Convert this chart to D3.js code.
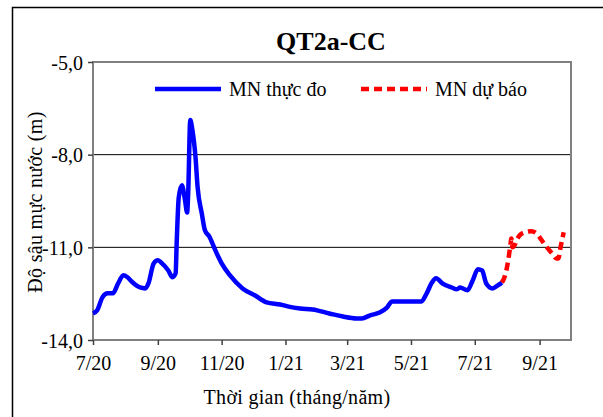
<!DOCTYPE html>
<html>
  <head>
    <meta charset="utf-8">
    <title>QT2a-CC</title>
    <script src="https://d3js.org/d3.v7.min.js"></script>
    <style>
    body{margin:0; background:white;}
    svg{display:block; background-color:white;}
    </style>
  </head>
  <body>
    <script>
    // data
    var obsDates = ["2020-07-01","2020-07-05","2020-07-10","2020-07-15","2020-07-20","2020-07-25","2020-07-30",
      "2020-08-03","2020-08-08","2020-08-15","2020-08-20","2020-08-23","2020-08-28","2020-09-01","2020-09-05",
      "2020-09-11","2020-09-15","2020-09-18","2020-09-19","2020-09-21","2020-09-24","2020-09-27","2020-09-29",
      "2020-09-30","2020-10-02","2020-10-04","2020-10-07","2020-10-09","2020-10-13","2020-10-16","2020-10-20",
      "2020-10-26","2020-11-01","2020-11-09","2020-11-21","2020-12-03","2020-12-14","2020-12-27","2021-01-03",
      "2021-01-15","2021-01-27","2021-02-12","2021-02-25","2021-03-10","2021-03-15","2021-03-23","2021-04-01",
      "2021-04-08","2021-04-13","2021-04-21","2021-05-03","2021-05-11","2021-05-16","2021-05-21","2021-05-25",
      "2021-05-31","2021-06-09","2021-06-14","2021-06-17","2021-06-24","2021-06-29","2021-07-04","2021-07-08",
      "2021-07-12","2021-07-18","2021-07-23","2021-07-27"];
    var obsValues = [-13.14,-13.04,-12.62,-12.49,-12.49,-12.17,-11.90,
      -11.97,-12.14,-12.30,-12.33,-12.17,-11.52,-11.42,-11.52,
      -11.75,-11.97,-11.84,-10.87,-9.38,-8.99,-9.48,-9.87,
      -9.25,-6.88,-7.20,-8.08,-9.05,-9.90,-10.45,-10.64,
      -11.10,-11.52,-11.91,-12.33,-12.56,-12.78,-12.85,-12.91,
      -12.98,-13.01,-13.14,-13.24,-13.30,-13.30,-13.20,-13.11,
      -12.95,-12.75,-12.75,-12.75,-12.75,-12.49,-12.14,-12.00,
      -12.17,-12.30,-12.36,-12.30,-12.39,-12.07,-11.71,-11.75,
      -12.17,-12.33,-12.23,-12.14];

    var fcDates = ["2021-07-27","2021-07-30","2021-08-02","2021-08-04","2021-08-05","2021-08-06","2021-08-08",
      "2021-08-10","2021-08-13","2021-08-18","2021-08-24","2021-08-29","2021-09-03","2021-09-08","2021-09-13",
      "2021-09-17","2021-09-19","2021-09-21","2021-09-23","2021-09-24"];
    var fcValues = [-12.14,-11.91,-11.42,-10.94,-10.71,-11.00,-10.94,
      -10.77,-10.61,-10.51,-10.48,-10.55,-10.77,-11.00,-11.20,
      -11.36,-11.36,-11.00,-10.68,-10.51];

    var yTicks = [-14, -11, -8, -5];
    var xTickDates = ["2020-07-01","2020-09-01","2020-11-01","2021-01-01","2021-03-01","2021-05-01","2021-07-01","2021-09-01"];
    var seriesNames = ["MN thực đo", "MN dự báo"];

    var width = 603, height = 417;
    var plotL = 93, plotR = 571, plotT = 62, plotB = 340;
    var serif = "'Liberation Serif', 'DejaVu Serif', serif";

    var parse = d3.timeParse("%Y-%m-%d");
    // excel style: hyphen minus and decimal comma
    var commaFmt = function(v){ return v.toFixed(1).replace(".", ","); };

    var svg = d3.select("body").append("svg").attr("width", width).attr("height", height);

    // outer chart border (runs past the window on the right and bottom)
    svg.append("rect").attr("x", 12.5).attr("y", 7.5).attr("width", 700).attr("height", 500)
      .attr("fill", "none").attr("stroke", "black").attr("stroke-width", 1.5);

    var x = d3.scaleTime()
      .domain([parse("2020-07-01"), parse("2021-10-01")])
      .range([plotL, plotR]);
    var y = d3.scaleLinear().domain([-14, -5]).range([plotB, plotT]);

    // gridlines
    svg.append("g").selectAll("line")
      .data([-8, -11])
      .enter().append("line")
      .attr("x1", plotL).attr("x2", plotR)
      .attr("y1", function(d){ return y(d); }).attr("y2", function(d){ return y(d); })
      .attr("stroke", "black").attr("stroke-width", 1);

    // plot area border
    svg.append("rect").attr("x", plotL).attr("y", plotT)
      .attr("width", plotR - plotL).attr("height", plotB - plotT)
      .attr("fill", "none").attr("stroke", "#808080").attr("stroke-width", 2);

    // axes
    var yAxis = d3.axisLeft(y).tickValues(yTicks).tickFormat(commaFmt).tickSize(5).tickPadding(5);
    var gy = svg.append("g").attr("transform", "translate(" + plotL + ",0)").call(yAxis)
      .attr("font-family", serif).attr("font-size", 20);
    gy.select(".domain").remove();
    gy.selectAll(".tick line").attr("stroke", "#404040").attr("stroke-width", 1.5);
    gy.selectAll(".tick text").attr("fill", "black").attr("dy", "0.35em");

    var xAxis = d3.axisBottom(x).tickValues(xTickDates.map(parse))
      .tickFormat(d3.timeFormat("%-m/%y")).tickSize(5).tickPadding(11);
    var gx = svg.append("g").attr("transform", "translate(0," + plotB + ")").call(xAxis)
      .attr("font-family", serif).attr("font-size", 20);
    gx.select(".domain").remove();
    gx.selectAll(".tick line").attr("stroke", "#404040").attr("stroke-width", 1.5);
    gx.selectAll(".tick text").attr("fill", "black");

    // lines
    var line = d3.line()
      .x(function(d){ return x(d.date); })
      .y(function(d){ return y(d.value); })
      .curve(d3.curveMonotoneX);

    var obs = obsDates.map(function(d, i){ return {date: parse(d), value: obsValues[i]}; });
    var fc = fcDates.map(function(d, i){ return {date: parse(d), value: fcValues[i]}; });

    svg.append("path").datum(obs).attr("d", line)
      .attr("fill", "none").attr("stroke", "#0000ff").attr("stroke-width", 4.5)
      .attr("stroke-linejoin", "round");
    svg.append("path").datum(fc).attr("d", line)
      .attr("fill", "none").attr("stroke", "#ff0000").attr("stroke-width", 4.5)
      .attr("stroke-dasharray", "8,5");

    // title and axis labels
    var labels = svg.append("g").attr("font-family", serif).attr("fill", "black");
    labels.append("text").attr("x", 331).attr("y", 50).attr("text-anchor", "middle")
      .attr("font-size", 26).attr("font-weight", "bold").text("QT2a-CC");
    labels.append("text").attr("x", 297).attr("y", 404).attr("text-anchor", "middle")
      .attr("font-size", 20).attr("letter-spacing", 0.3).text("Thời gian (tháng/năm)");
    labels.append("text").attr("transform", "translate(42,202) rotate(-90)").attr("text-anchor", "middle")
      .attr("font-size", 20).attr("letter-spacing", 0.3).text("Độ sâu mực nước (m)");

    // legend
    var legend = svg.append("g").attr("font-family", serif).attr("font-size", 20);
    legend.append("line").attr("x1", 155).attr("x2", 221).attr("y1", 89).attr("y2", 89)
      .attr("stroke", "#0000ff").attr("stroke-width", 4.5);
    legend.append("text").attr("x", 229).attr("y", 96).text(seriesNames[0]);
    legend.append("line").attr("x1", 361).attr("x2", 427).attr("y1", 89).attr("y2", 89)
      .attr("stroke", "#ff0000").attr("stroke-width", 4.5).attr("stroke-dasharray", "8,5");
    legend.append("text").attr("x", 435).attr("y", 96).text(seriesNames[1]);
    </script>
  </body>
</html>
